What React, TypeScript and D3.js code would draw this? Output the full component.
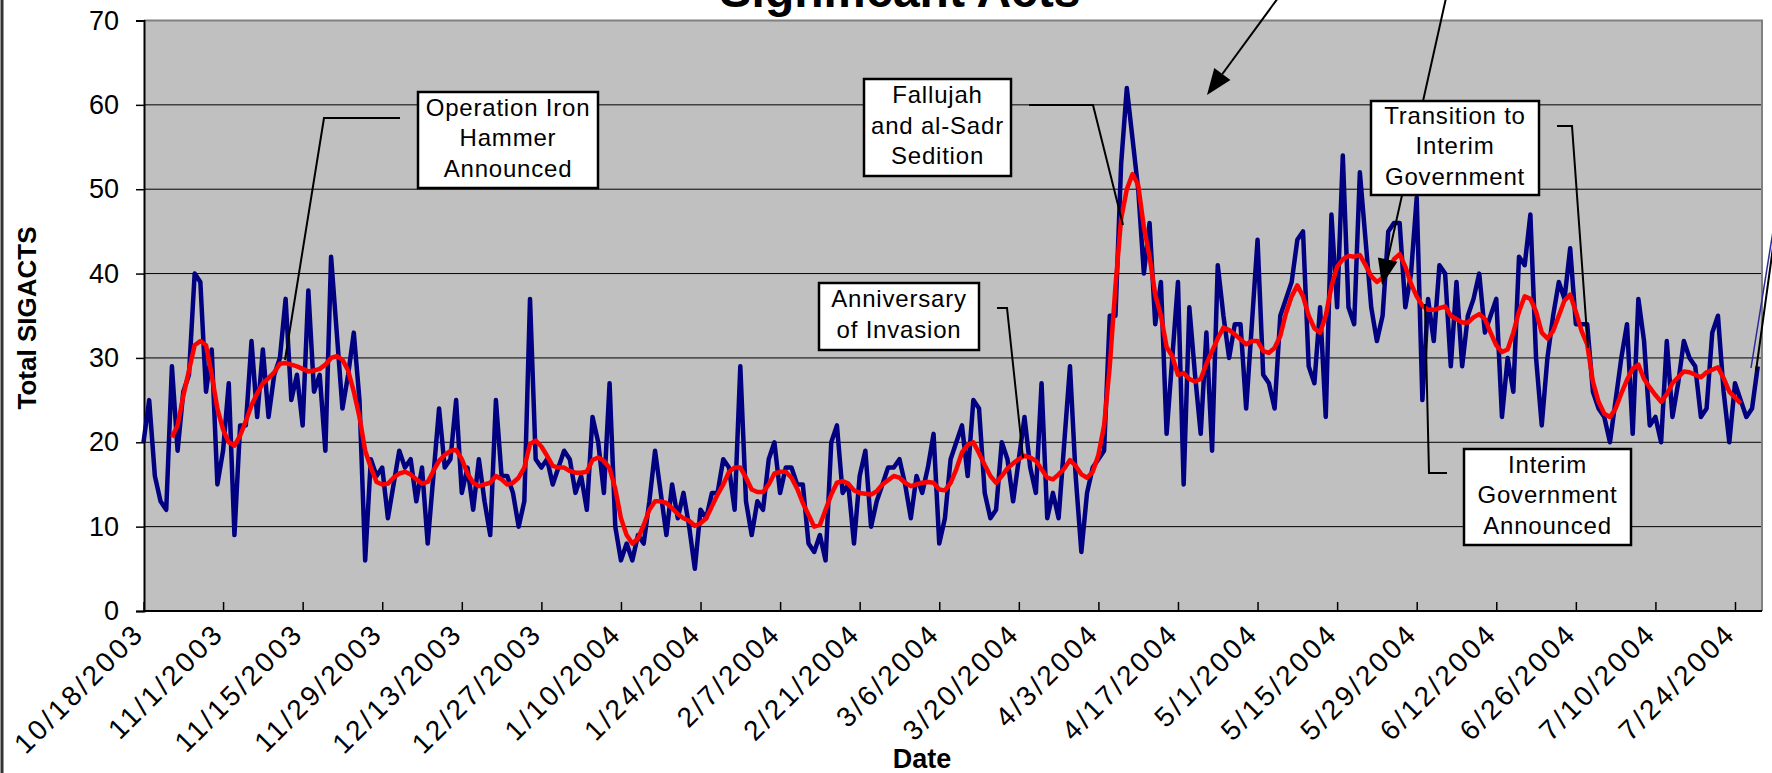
import * as d3 from "d3";
import { useEffect, useRef } from "react";

// daily SIGACTS, one value per day from startDate
const startDate = "10/18/2003";
const sigacts = [
  20, 25, 16, 13, 12, 29, 19, 26, 28, 40, 39, 26, 31, 15,
  19, 27, 9, 22, 22, 32, 23, 31, 23, 28, 30, 37, 25, 28,
  22, 38, 26, 28, 19, 42, 33, 24, 28, 33, 25, 6, 18, 16,
  17, 11, 15, 19, 17, 18, 13, 17, 8, 16, 24, 17, 18, 25,
  14, 17, 12, 18, 13, 9, 25, 16, 16, 14, 10, 13, 37, 18,
  17, 18, 15, 17, 19, 18, 14, 16, 12, 23, 20, 14, 27, 10,
  6, 8, 6, 9, 8, 13, 19, 14, 9, 15, 11, 14, 10, 5,
  12, 11, 14, 14, 18, 17, 12, 29, 13, 9, 13, 12, 18, 20,
  14, 17, 17, 15, 15, 8, 7, 9, 6, 20, 22, 14, 15, 8,
  16, 19, 10, 13, 15, 17, 17, 18, 15, 11, 16, 14, 17, 21,
  8, 11, 18, 20, 22, 16, 25, 24, 14, 11, 12, 20, 18, 13,
  18, 23, 17, 14, 27, 11, 14, 11, 20, 29, 16, 7, 14, 17,
  18, 19, 35, 35, 53, 62, 56, 50, 40, 46, 34, 39, 21, 30,
  39, 15, 36, 28, 21, 33, 19, 41, 35, 30, 34, 34, 24, 34,
  44, 28, 27, 24, 35, 37, 39, 44, 45, 29, 27, 36, 23, 47,
  36, 54, 36, 34, 52, 44, 36, 32, 35, 45, 46, 46, 36, 40,
  49, 25, 37, 32, 41, 40, 29, 39, 29, 35, 37, 40, 33, 35,
  37, 23, 30, 26, 42, 41, 47, 30, 22, 30, 35, 39, 37, 43,
  34, 34, 34, 26, 24, 23, 20, 25, 30, 34, 21, 37, 32, 22,
  23, 20, 32, 23, 27, 32, 30, 29, 23, 24, 33, 35, 26, 20,
  27, 25, 23, 24, 29,
];

// red moving-average line, one value per day from avgStart
const avgStart = "10/23/2003";
const movingAvg = [
  20.6, 22, 25.5, 28.5, 31.5, 32, 31.5, 28, 24, 21.5, 20, 19.6, 20.8, 22.5,
  24.4, 25.8, 27, 27.6, 28.3, 29.3, 29.4, 29.2, 29, 28.7, 28.4, 28.5, 28.7, 29.2,
  30, 30.2, 29.8, 28.5, 26, 23, 19, 17, 15.3, 15, 15.1, 15.8, 16.3, 16.5,
  16.2, 15.6, 15.1, 15.3, 16.6, 17.8, 18.5, 19, 19.1, 18, 16.3, 15.2, 14.8, 15,
  15.2, 16, 15.6, 15, 15.2, 15.8, 17, 19.8, 20.2, 19.5, 18.4, 17.2, 17, 17,
  16.6, 16.4, 16.4, 16.5, 17.9, 18.2, 17.8, 16.9, 14.5, 11, 9, 8, 8.6, 10.2,
  12, 13, 13, 12.8, 12.2, 11.5, 11, 10.7, 10.1, 10.4, 11, 12.4, 13.8, 15,
  16.5, 17, 17, 15.8, 14.4, 14.1, 14.1, 15, 16.3, 16.5, 16.5, 15.8, 14.5, 12.8,
  11.4, 10, 10.2, 12, 13.8, 15.2, 15.4, 15.1, 14.3, 14, 13.9, 13.8, 14.2, 15,
  15.5, 16, 15.8, 15.2, 14.8, 15, 15.2, 15.3, 15.2, 14.4, 14.3, 15.2, 16.8, 18.8,
  19.7, 20, 18.7, 17.3, 16, 15.2, 16, 16.9, 17.5, 18, 18.4, 18.2, 17.8, 16.8,
  15.8, 15.6, 16.2, 16.9, 17.9, 17.2, 16.2, 15.8, 16.5, 18.5, 22, 29, 38.5, 46.5,
  50, 51.8, 50.5, 45.5, 42, 37.5, 35, 31.3, 30.2, 28, 28.2, 27.5, 27.2, 27.5,
  29.3, 30.8, 32.3, 33.6, 33.3, 32.8, 32.2, 31.6, 32, 32, 30.8, 30.6, 31.2, 32.6,
  35.3, 37.3, 38.6, 37.3, 35, 33.5, 33, 35, 38.5, 40.8, 41.7, 42.1, 42, 42.2,
  41, 39.7, 39, 39.5, 40.3, 41.7, 42.3, 40.8, 38.8, 37.3, 36.2, 35.7, 35.7, 35.9,
  36.1, 35, 34.6, 34.2, 34.2, 34.8, 35.2, 34.6, 33, 31.5, 30.7, 31, 33, 35.5,
  37.3, 37, 35.5, 33, 32.3, 33.2, 35, 36.8, 37.5, 35.5, 33.2, 31.6, 27.2, 24.8,
  23.4, 23, 24, 25.8, 27.4, 28.7, 29.2, 27.5, 26.5, 25.6, 24.8, 25.7, 27, 27.7,
  28.4, 28.3, 28, 27.7, 28.3, 28.6, 28.9, 27.6, 26, 25.3, 24.6,
];

const tickLabels = [
  "10/18/2003", "11/1/2003", "11/15/2003", "11/29/2003", "12/13/2003",
  "12/27/2003", "1/10/2004", "1/24/2004", "2/7/2004", "2/21/2004",
  "3/6/2004", "3/20/2004", "4/3/2004", "4/17/2004", "5/1/2004",
  "5/15/2004", "5/29/2004", "6/12/2004", "6/26/2004", "7/10/2004",
  "7/24/2004",
];
const yTicks = [0, 10, 20, 30, 40, 50, 60, 70];

const annotations = [
  { lines: ["Operation Iron", "Hammer", "Announced"], box: [418, 92, 598, 188], link: [[400, 118], [324, 118], [285, 360]] },
  { lines: ["Fallujah", "and al-Sadr", "Sedition"], box: [864, 79, 1011, 176], link: [[1029, 105], [1093, 105], [1123, 225]] },
  { lines: ["Anniversary", "of Invasion"], box: [819, 283, 979, 350], link: [[997, 308], [1007, 308], [1023, 458]] },
  { lines: ["Transition to", "Interim", "Government"], box: [1371, 101, 1539, 195], link: [[1557, 126], [1572, 126], [1588, 348]] },
  { lines: ["Interim", "Government", "Announced"], box: [1464, 449, 1631, 545], link: [[1447, 473], [1429, 473], [1425, 304]] },
];
const arrows = [
  [[1278, -2], [1207, 95]],
  [[1446, -2], [1382, 285]],
];

const W = 1772;
const H = 773;
const FONT = "'Liberation Sans', Arial, sans-serif";

export default function App() {
  const ref = useRef<SVGSVGElement | null>(null);

  useEffect(() => {
    const svg = d3.select(ref.current);
    svg.selectAll("*").remove();

    const parse = d3.utcParse("%m/%d/%Y");
    const ticks = tickLabels.map((s) => parse(s)!);
    const t0 = parse(startDate)!;
    const a0 = parse(avgStart)!;

    const left = 144, right = 1762, top = 20.5, bottom = 611;

    const x = d3.scaleUtc().domain([ticks[0], ticks[ticks.length - 1]]).range([143.5, 1735]);
    const y = d3.scaleLinear().domain([0, 70]).range([bottom, top]);

    svg.append("rect").attr("width", W).attr("height", H).attr("fill", "#fff");
    // chart frame on the left edge
    svg.append("line").attr("x1", 2).attr("x2", 2).attr("y1", 0).attr("y2", H)
      .attr("stroke", "#333").attr("stroke-width", 3);

    // plot area
    svg.append("rect").attr("x", left).attr("y", top)
      .attr("width", right - left).attr("height", bottom - top).attr("fill", "#C0C0C0");

    svg.append("g").selectAll("line").data(yTicks.filter((v) => v > 0 && v < 70)).enter()
      .append("line")
      .attr("x1", left).attr("x2", right)
      .attr("y1", (d) => y(d)).attr("y2", (d) => y(d))
      .attr("stroke", "#000").attr("stroke-width", 1);

    // top / right border of the plot
    svg.append("path")
      .attr("d", `M${left},${top}H${right}V${bottom}`)
      .attr("fill", "none").attr("stroke", "#808080").attr("stroke-width", 2);

    // y axis
    const yAxis = svg.append("g").attr("transform", `translate(${left},0)`)
      .call(d3.axisLeft(y).tickValues(yTicks).tickSize(8).tickPadding(17));
    yAxis.select(".domain").attr("stroke", "#000").attr("stroke-width", 2);
    yAxis.selectAll(".tick line").attr("stroke", "#000").attr("stroke-width", 1.5);
    yAxis.selectAll(".tick text")
      .style("font-family", FONT).style("font-size", "27px").attr("fill", "#000");

    // x axis
    const xAxis = svg.append("g").attr("transform", `translate(0,${bottom})`)
      .call(d3.axisBottom(x).tickValues(ticks).tickSizeInner(-9).tickSizeOuter(0)
        .tickFormat((d, i) => tickLabels[i]));
    xAxis.select(".domain").attr("stroke", "#000").attr("stroke-width", 2)
      .attr("d", `M${left},0H${right}`);
    xAxis.selectAll(".tick line").attr("stroke", "#000").attr("stroke-width", 1.5);
    xAxis.selectAll(".tick text")
      .style("font-family", FONT).style("font-size", "28px").style("letter-spacing", "3px")
      .attr("fill", "#000")
      .attr("text-anchor", "end").attr("dy", null).attr("y", 0)
      .attr("transform", "translate(2,24) rotate(-45)");

    // series
    const blue = d3.line<number>()
      .x((_, i) => x(d3.utcDay.offset(t0, i)))
      .y((v) => y(v));
    svg.append("path").attr("d", blue(sigacts))
      .attr("fill", "none").attr("stroke", "#000080").attr("stroke-width", 4.5)
      .attr("stroke-linejoin", "round");

    const red = d3.line<number>()
      .x((_, i) => x(d3.utcDay.offset(a0, i)))
      .y((v) => y(v));
    svg.append("path").attr("d", red(movingAvg))
      .attr("fill", "none").attr("stroke", "#FF0000").attr("stroke-width", 4.5)
      .attr("stroke-linejoin", "round");

    // annotation connectors
    const poly = d3.line();
    annotations.forEach((a) => {
      svg.append("path").attr("d", poly(a.link as [number, number][]))
        .attr("fill", "none").attr("stroke", "#000").attr("stroke-width", 2);
    });
    svg.append("path").attr("d", poly([[1756, 371], [1774, 240]]))
      .attr("fill", "none").attr("stroke", "#000").attr("stroke-width", 2);
    svg.append("path").attr("d", poly([[1751, 368], [1774, 225]]))
      .attr("fill", "none").attr("stroke", "#2a2a9a").attr("stroke-width", 1.5);

    arrows.forEach(([p, q]) => {
      const dx = q[0] - p[0], dy = q[1] - p[1];
      const len = Math.hypot(dx, dy);
      const ux = dx / len, uy = dy / len;
      const L = 26, hw = 10;
      const bx = q[0] - ux * L, by = q[1] - uy * L;
      svg.append("line").attr("x1", p[0]).attr("y1", p[1]).attr("x2", bx).attr("y2", by)
        .attr("stroke", "#000").attr("stroke-width", 2);
      svg.append("path")
        .attr("d", `M${q[0]},${q[1]}L${bx - uy * hw},${by + ux * hw}L${bx + uy * hw},${by - ux * hw}Z`)
        .attr("fill", "#000");
    });

    // annotation boxes
    annotations.forEach((a) => {
      const [x0, y0, x1, y1] = a.box;
      svg.append("rect").attr("x", x0).attr("y", y0).attr("width", x1 - x0).attr("height", y1 - y0)
        .attr("fill", "#fff").attr("stroke", "#000").attr("stroke-width", 2.5);
      const cx = (x0 + x1) / 2, cy = (y0 + y1) / 2;
      a.lines.forEach((t, i) => {
        svg.append("text").attr("x", cx)
          .attr("y", cy + 6 + (i - (a.lines.length - 1) / 2) * 30.5)
          .attr("text-anchor", "middle")
          .style("font-family", FONT).style("font-size", "24px").style("letter-spacing", "0.8px")
          .text(t);
      });
    });

    // titles
    svg.append("text").attr("x", 900).attr("y", 7).attr("text-anchor", "middle")
      .style("font-family", FONT).style("font-size", "48px").style("font-weight", "bold")
      .text("Significant Acts");
    svg.append("text").attr("transform", "translate(36,318) rotate(-90)")
      .attr("text-anchor", "middle")
      .style("font-family", FONT).style("font-size", "26px").style("font-weight", "bold")
      .text("Total SIGACTS");
    svg.append("text").attr("x", 922).attr("y", 768).attr("text-anchor", "middle")
      .style("font-family", FONT).style("font-size", "27px").style("font-weight", "bold")
      .text("Date");
  }, []);

  return (
    <svg
      ref={ref}
      width={W}
      height={H}
      style={{ position: "absolute", left: 0, top: 0, display: "block" }}
    />
  );
}
